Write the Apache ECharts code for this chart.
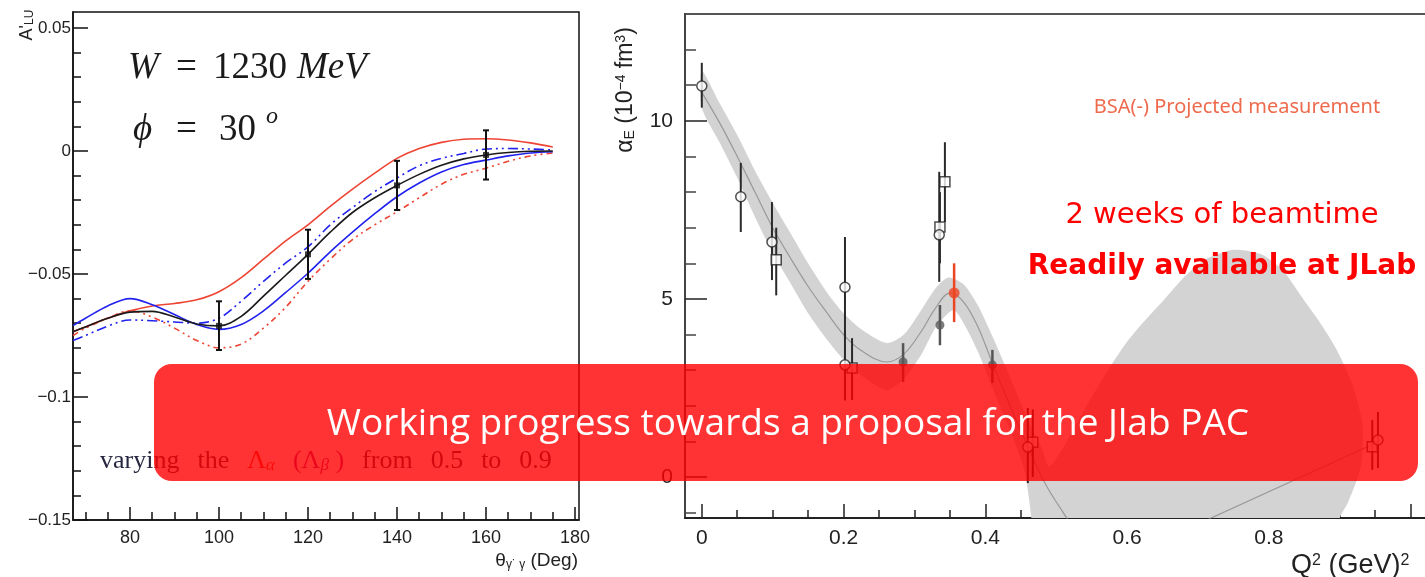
<!DOCTYPE html>
<html>
<head>
<meta charset="utf-8">
<script src="https://cdn.jsdelivr.net/npm/echarts@6/dist/echarts.min.js"></script>
<style>
  html, body { margin: 0; padding: 0; background: #ffffff; }
  #c { width: 1425px; height: 577px; }
</style>
</head>
<body>
<div id="c"></div>
<script>
// ---------- Left panel: beam-spin asymmetry A'_LU vs photon angle ----------
const thetaDeg      = [67.2, 70, 75, 80, 85, 90, 95, 100, 105, 110, 115, 120, 125, 130, 135, 140, 145, 150, 155, 160, 165, 170, 175];
const aluCentral    = [-0.0735, -0.0715, -0.0680, -0.0655, -0.0652, -0.0675, -0.0703, -0.0711, -0.0672, -0.0590, -0.0505, -0.0420, -0.0330, -0.0250, -0.0190, -0.0140, -0.0095, -0.0058, -0.0032, -0.0016, -0.0006, -0.0001, 0.0000];
const aluRedSolid   = [-0.0735, -0.0715, -0.0680, -0.0650, -0.0630, -0.0620, -0.0605, -0.0572, -0.0515, -0.0440, -0.0365, -0.0300, -0.0225, -0.0155, -0.0090, -0.0030, 0.0010, 0.0035, 0.0048, 0.0050, 0.0045, 0.0033, 0.0016];
const aluRedDotted  = [-0.0750, -0.0720, -0.0680, -0.0650, -0.0675, -0.0720, -0.0770, -0.0800, -0.0785, -0.0720, -0.0635, -0.0530, -0.0440, -0.0360, -0.0300, -0.0247, -0.0190, -0.0135, -0.0095, -0.0070, -0.0042, -0.0020, -0.0008];
const aluBlueSolid  = [-0.0710, -0.0680, -0.0630, -0.0600, -0.0625, -0.0665, -0.0705, -0.0725, -0.0705, -0.0650, -0.0575, -0.0497, -0.0410, -0.0330, -0.0255, -0.0186, -0.0130, -0.0085, -0.0055, -0.0037, -0.0020, -0.0008, -0.0003];
const aluBlueDashed = [-0.0770, -0.0750, -0.0712, -0.0687, -0.0690, -0.0695, -0.0700, -0.0680, -0.0610, -0.0530, -0.0455, -0.0390, -0.0300, -0.0230, -0.0165, -0.0110, -0.0060, -0.0030, -0.0010, 0.0008, 0.0010, 0.0008, 0.0004];

const aluPointTheta = [100, 120, 140, 160];
const aluPointValue = [-0.0711, -0.0420, -0.0140, -0.0016];
const aluPointLow   = [-0.0809, -0.0520, -0.0240, -0.0116];
const aluPointHigh  = [-0.0611, -0.0320, -0.0040, 0.0084];

const leftXMajor = [80, 100, 120, 140, 160, 180];
const leftXMinor = [70, 75, 85, 90, 95, 105, 110, 115, 125, 130, 135, 145, 150, 155, 165, 170, 175];
const leftYMajor = [-0.15, -0.1, -0.05, 0, 0.05];
const leftYMinor = [-0.14, -0.13, -0.12, -0.11, -0.09, -0.08, -0.07, -0.06, -0.04, -0.03, -0.02, -0.01, 0.01, 0.02, 0.03, 0.04];

// ---------- Right panel: electric polarizability alpha_E vs Q^2 ----------
const q2OpenCircle      = [0.000, 0.055, 0.099, 0.202, 0.202, 0.335, 0.460, 0.954];
const alphaOpenCircle   = [10.98, 7.87, 6.60, 5.33, 3.15, 6.80, 0.84, 1.04];
const alphaOpenCircleLo = [10.37, 6.88, 5.53, 3.90, 2.15, 5.48, -0.17, 0.25];
const alphaOpenCircleHi = [11.63, 8.82, 7.72, 6.74, 4.10, 8.57, 1.94, 1.83];

const q2OpenSquare      = [0.105, 0.212, 0.336, 0.343, 0.467, 0.946];
const alphaOpenSquare   = [6.10, 3.06, 7.02, 8.29, 0.98, 0.85];
const alphaOpenSquareLo = [5.10, 2.16, 6.00, 7.16, 0.00, 0.20];
const alphaOpenSquareHi = [7.00, 3.90, 8.00, 9.40, 1.90, 1.60];

const q2Filled      = [0.284, 0.336, 0.410];
const alphaFilled   = [3.23, 4.27, 3.15];
const alphaFilledLo = [2.67, 3.70, 2.64];
const alphaFilledHi = [3.76, 4.83, 3.57];

const q2Projected      = [0.356];
const alphaProjected   = [5.17];
const alphaProjectedLo = [4.35];
const alphaProjectedHi = [6.00];

// fit band: upper edge, wide high-Q^2 lobe, lower edge (traced as one outline)
const bandUpper = [[0, 11.4], [0.025, 10.5], [0.05, 9.6], [0.075, 8.6], [0.1, 7.7], [0.125, 6.85], [0.15, 6.0], [0.177, 5.17], [0.2, 4.6], [0.225, 4.15], [0.261, 3.76], [0.285, 4.0], [0.31, 4.7], [0.33, 5.3], [0.348, 5.6], [0.37, 5.4], [0.39, 4.8], [0.41, 3.95], [0.435, 2.8], [0.46, 1.6], [0.48, 0.8]];
const bandLobe  = [[0.49, 0.3], [0.515, 1.0], [0.54, 1.9], [0.57, 2.9], [0.6, 3.8], [0.63, 4.5], [0.652, 4.97], [0.68, 5.6], [0.71, 6.1], [0.75, 6.38], [0.79, 6.25], [0.82, 5.8], [0.845, 5.1], [0.87, 4.4], [0.895, 3.6], [0.918, 2.6], [0.932, 1.5], [0.93, 0.3], [0.912, -0.7], [0.9, -1.15], [0.885, -2.5], [0.5, -2.5]];
const bandLower = [[0.47, -2.5], [0.465, -1.15], [0.455, 0.2], [0.435, 1.3], [0.41, 2.5], [0.39, 3.5], [0.37, 4.3], [0.355, 4.69], [0.33, 4.2], [0.31, 3.45], [0.285, 2.75], [0.261, 2.44], [0.225, 2.85], [0.2, 3.3], [0.177, 3.85], [0.15, 4.6], [0.125, 5.45], [0.1, 6.3], [0.075, 7.3], [0.05, 8.4], [0.025, 9.4], [0, 10.37]];

const fitCentral = [[0, 10.8], [0.025, 9.95], [0.05, 9.0], [0.075, 8.0], [0.1, 7.0], [0.125, 6.15], [0.15, 5.35], [0.177, 4.6], [0.2, 4.0], [0.225, 3.55], [0.261, 3.23], [0.285, 3.45], [0.31, 4.1], [0.33, 4.75], [0.35, 5.17], [0.37, 4.9], [0.39, 4.2], [0.41, 3.2], [0.435, 2.0], [0.46, 0.85], [0.485, -0.2], [0.51, -1.0], [0.53, -1.6], '-', [0.68, -1.5], [0.95, 0.95]];

const rightXMajor  = [0, 0.2, 0.4, 0.6, 0.8, 1.0];
const rightXLabels = ['0', '0.2', '0.4', '0.6', '0.8', ''];
const rightXMinor  = [0.05, 0.1, 0.15, 0.25, 0.3, 0.35, 0.45, 0.5, 0.55, 0.65, 0.7, 0.75, 0.85, 0.9, 0.95];
const rightYMajor  = [0, 5, 10];
const rightYMinor  = [-1, 1, 2, 3, 4, 6, 7, 8, 9, 11, 12];

// ---------- helpers ----------
const sans = '"Liberation Sans", Arial, sans-serif';
const serif = '"Liberation Serif", "Times New Roman", serif';
const pairs = (xs, ys) => xs.map((x, i) => [x, ys[i]]);
const minusFmt = v => (v < 0 ? '\u2212' : '') + String(Math.abs(v));

function errorBars(xi, yi, xs, lo, hi, color, width, cap, z) {
  return {
    type: 'custom', xAxisIndex: xi, yAxisIndex: yi, silent: true, z: z,
    encode: { x: 0, y: [1, 2] },
    data: xs.map((x, i) => [x, lo[i], hi[i]]),
    renderItem: (params, api) => {
      const a = api.coord([api.value(0), api.value(1)]);
      const b = api.coord([api.value(0), api.value(2)]);
      const kids = [{ type: 'line', shape: { x1: a[0], y1: a[1], x2: b[0], y2: b[1] }, style: { stroke: color, lineWidth: width } }];
      if (cap) {
        kids.push({ type: 'line', shape: { x1: a[0] - cap, y1: a[1], x2: a[0] + cap, y2: a[1] }, style: { stroke: color, lineWidth: width } });
        kids.push({ type: 'line', shape: { x1: b[0] - cap, y1: b[1], x2: b[0] + cap, y2: b[1] }, style: { stroke: color, lineWidth: width } });
      }
      return { type: 'group', children: kids };
    }
  };
}

function curve(ys, color, dash) {
  return {
    type: 'line', xAxisIndex: 0, yAxisIndex: 0, data: pairs(thetaDeg, ys), smooth: 0.35,
    showSymbol: false, silent: true, z: 3,
    lineStyle: { color: color, width: 1.6, type: dash || 'solid' }
  };
}

// an extra axis that only carries the short minor ticks
function tickAxis(grid, values, len, color, width, extent, pos) {
  return {
    gridIndex: grid, type: 'value', min: extent[0], max: extent[1], position: pos,
    axisLine: { show: false, onZero: false },
    axisTick: { show: true, inside: true, length: len, customValues: values, lineStyle: { color: color, width: width } },
    axisLabel: { show: false },
    splitLine: { show: false }
  };
}

const leftXExt = [67.2, 180.9], leftYExt = [-0.15, 0.0565];
const rightXExt = [-0.0237, 1.05], rightYExt = [-1.15, 13.0];

const chart = echarts.init(document.getElementById('c'));
chart.setOption({
  animation: false,
  backgroundColor: '#ffffff',
  grid: [
    { left: 73, top: 12, width: 506, height: 508, outerBoundsMode: 'none', show: true, borderColor: '#111', borderWidth: 1.5, backgroundColor: 'transparent' },
    { left: 685, top: 14, width: 761, height: 504, outerBoundsMode: 'none', show: true, borderColor: '#555', borderWidth: 2, backgroundColor: 'transparent' }
  ],
  xAxis: [
    {
      gridIndex: 0, type: 'value', min: leftXExt[0], max: leftXExt[1], position: 'bottom',
      axisLine: { onZero: false, lineStyle: { color: '#111', width: 1.5 } },
      axisTick: { inside: true, length: 13, customValues: leftXMajor, lineStyle: { color: '#111', width: 1.5 } },
      axisLabel: { customValues: leftXMajor, color: '#222', fontSize: 18, fontFamily: sans, margin: 9 },
      splitLine: { show: false }
    },
    tickAxis(0, leftXMinor, 8, '#111', 1.5, leftXExt, 'bottom'),
    {
      gridIndex: 1, type: 'value', min: rightXExt[0], max: rightXExt[1], position: 'bottom',
      axisLine: { onZero: false, lineStyle: { color: '#222', width: 2 } },
      axisTick: { inside: true, length: 14, customValues: rightXMajor, lineStyle: { color: '#222', width: 1.5 } },
      axisLabel: { customValues: rightXMajor, color: '#222', fontSize: 21, fontFamily: sans, margin: 10,
        formatter: v => rightXLabels[rightXMajor.indexOf(v)] ?? '' },
      splitLine: { show: false }
    },
    tickAxis(1, rightXMinor, 8, '#222', 1.5, rightXExt, 'bottom')
  ],
  yAxis: [
    {
      gridIndex: 0, type: 'value', min: leftYExt[0], max: leftYExt[1], position: 'left',
      axisLine: { onZero: false, lineStyle: { color: '#111', width: 1.5 } },
      axisTick: { inside: true, length: 15, customValues: leftYMajor, lineStyle: { color: '#111', width: 1.5 } },
      axisLabel: { customValues: leftYMajor, color: '#222', fontSize: 17, fontFamily: sans, margin: 2, formatter: minusFmt },
      splitLine: { show: false }
    },
    tickAxis(0, leftYMinor, 8, '#111', 1.5, leftYExt, 'left'),
    {
      gridIndex: 1, type: 'value', min: rightYExt[0], max: rightYExt[1], position: 'left',
      axisLine: { onZero: false, lineStyle: { color: '#444', width: 2 } },
      axisTick: { inside: true, length: 22, customValues: rightYMajor, lineStyle: { color: '#222', width: 1.5 } },
      axisLabel: { customValues: rightYMajor, color: '#222', fontSize: 21, fontFamily: sans, margin: 12 },
      splitLine: { show: false }
    },
    tickAxis(1, rightYMinor, 11, '#444', 1.5, rightYExt, 'left')
  ],
  series: [
    // left panel curves
    curve(aluRedSolid, '#ee4433'),
    curve(aluRedDotted, '#ee4433', [6, 4, 2, 4, 2, 4]),
    curve(aluBlueSolid, '#2222ee'),
    curve(aluBlueDashed, '#2222ee', [10, 4, 2, 4, 2, 4]),
    curve(aluCentral, '#1a1a1a'),
    errorBars(0, 0, aluPointTheta, aluPointLow, aluPointHigh, '#111', 2, 3, 5),
    {
      type: 'scatter', xAxisIndex: 0, yAxisIndex: 0, data: pairs(aluPointTheta, aluPointValue),
      symbol: 'rect', symbolSize: 6, itemStyle: { color: '#111' }, silent: true, z: 6
    },
    // right panel: fit band
    {
      type: 'custom', xAxisIndex: 2, yAxisIndex: 2, silent: true, z: 1,
      data: [[0.5, 5]],
      renderItem: (params, api) => {
        const cs = params.coordSys;
        const outline = bandUpper.concat(bandLobe, bandLower).map(p => api.coord(p));
        return {
          type: 'group',
          clipPath: { type: 'rect', shape: { x: cs.x, y: cs.y, width: cs.width, height: cs.height } },
          children: [{ type: 'polygon', shape: { points: outline, smooth: 0.25 }, style: { fill: '#d3d3d3' } }]
        };
      }
    },
    {
      type: 'line', xAxisIndex: 2, yAxisIndex: 2, data: fitCentral, smooth: 0.35, connectNulls: false,
      showSymbol: false, silent: true, z: 2, lineStyle: { color: '#999999', width: 1.2 }
    },
    errorBars(2, 2, q2OpenCircle, alphaOpenCircleLo, alphaOpenCircleHi, '#2a2a2a', 2, 0, 4),
    errorBars(2, 2, q2OpenSquare, alphaOpenSquareLo, alphaOpenSquareHi, '#2a2a2a', 2, 0, 4),
    errorBars(2, 2, q2Filled, alphaFilledLo, alphaFilledHi, '#555555', 2.5, 0, 4),
    errorBars(2, 2, q2Projected, alphaProjectedLo, alphaProjectedHi, '#ee4422', 2.5, 0, 4),
    {
      type: 'scatter', xAxisIndex: 2, yAxisIndex: 2, data: pairs(q2OpenSquare, alphaOpenSquare),
      symbol: 'rect', symbolSize: 10, silent: true, z: 6,
      itemStyle: { color: '#ffffff', borderColor: '#222', borderWidth: 1.5 }
    },
    {
      type: 'scatter', xAxisIndex: 2, yAxisIndex: 2, data: pairs(q2OpenCircle, alphaOpenCircle),
      symbol: 'circle', symbolSize: 10, silent: true, z: 7,
      itemStyle: { color: '#ffffff', borderColor: '#222', borderWidth: 1.5 }
    },
    {
      type: 'scatter', xAxisIndex: 2, yAxisIndex: 2, data: pairs(q2Filled, alphaFilled),
      symbol: 'circle', symbolSize: 9, silent: true, z: 6, itemStyle: { color: '#5a5a5a' }
    },
    {
      type: 'scatter', xAxisIndex: 2, yAxisIndex: 2, data: pairs(q2Projected, alphaProjected),
      symbol: 'circle', symbolSize: 11, silent: true, z: 6, itemStyle: { color: '#ee4422' }
    }
  ],
  graphic: [
    // left panel axis titles
    {
      type: 'text', x: 27, y: 25, rotation: Math.PI / 2, z: 50,
      style: {
        text: "A'{s|LU}", fontFamily: sans, fontSize: 18, fill: '#222', align: 'center', verticalAlign: 'middle',
        rich: { s: { fontSize: 12, verticalAlign: 'bottom', fontFamily: sans, fill: '#222' } }
      }
    },
    {
      type: 'text', x: 578, y: 561, z: 50,
      style: {
        text: '\u03b8{s|\u03b3\u02d9 \u03b3} (Deg)', fontFamily: sans, fontSize: 19, fill: '#222', align: 'right', verticalAlign: 'middle',
        rich: { s: { fontSize: 12, verticalAlign: 'bottom', fontFamily: sans, fill: '#222' } }
      }
    },
    // kinematics
    { type: 'text', x: 128, y: 68, z: 50, style: { text: 'W', fontFamily: serif, fontStyle: 'italic', fontSize: 37, fill: '#1a1a1a', verticalAlign: 'middle' } },
    { type: 'text', x: 176, y: 68, z: 50, style: { text: '=', fontFamily: serif, fontSize: 37, fill: '#1a1a1a', verticalAlign: 'middle' } },
    { type: 'text', x: 213, y: 68, z: 50, style: { text: '1230', fontFamily: serif, fontSize: 37, fill: '#1a1a1a', verticalAlign: 'middle' } },
    { type: 'text', x: 297, y: 68, z: 50, style: { text: 'MeV', fontFamily: serif, fontStyle: 'italic', fontSize: 37, fill: '#1a1a1a', verticalAlign: 'middle' } },
    { type: 'text', x: 133, y: 130, z: 50, style: { text: '\u03d5', fontFamily: serif, fontStyle: 'italic', fontSize: 37, fill: '#1a1a1a', verticalAlign: 'middle' } },
    { type: 'text', x: 176, y: 130, z: 50, style: { text: '=', fontFamily: serif, fontSize: 37, fill: '#1a1a1a', verticalAlign: 'middle' } },
    { type: 'text', x: 219, y: 130, z: 50, style: { text: '30', fontFamily: serif, fontSize: 37, fill: '#1a1a1a', verticalAlign: 'middle' } },
    { type: 'text', x: 266, y: 117, z: 50, style: { text: 'o', fontFamily: serif, fontStyle: 'italic', fontSize: 24, fill: '#1a1a1a', verticalAlign: 'middle' } },
    {
      type: 'text', x: 100, y: 461, z: 50,
      style: {
        text: 'varying{g| }the{g| }{r|\u039b}{rs|\u03b1}{g| }{p|(\u039b}{ps|\u03b2}{p| )}{g| }from{g| }0.5{g| }to{g| }0.9',
        fontFamily: serif, fontSize: 26, fill: '#262640', verticalAlign: 'middle',
        rich: {
          g: { width: 18, fontFamily: serif, fontSize: 26 },
          r: { fill: '#e8302a', fontFamily: serif, fontSize: 26 },
          rs: { fill: '#e8302a', fontFamily: serif, fontStyle: 'italic', fontSize: 17, verticalAlign: 'bottom' },
          p: { fill: '#a0208a', fontFamily: serif, fontSize: 26 },
          ps: { fill: '#a0208a', fontFamily: serif, fontStyle: 'italic', fontSize: 17, verticalAlign: 'bottom' }
        }
      }
    },
    // right panel axis titles
    {
      type: 'text', x: 626, y: 90, rotation: Math.PI / 2, z: 50,
      style: {
        text: '\u03b1{s|E} (10{u|\u22124} fm{u|3})', fontFamily: sans, fontSize: 23, fill: '#222', align: 'center', verticalAlign: 'middle',
        rich: {
          s: { fontSize: 14, verticalAlign: 'bottom', fontFamily: sans, fill: '#222' },
          u: { fontSize: 14, verticalAlign: 'top', fontFamily: sans, fill: '#222' }
        }
      }
    },
    {
      type: 'text', x: 1291, y: 566, z: 50,
      style: {
        text: 'Q{u|2} (GeV){u|2}', fontFamily: sans, fontSize: 27, fill: '#222', align: 'left', verticalAlign: 'middle',
        rich: { u: { fontSize: 16, verticalAlign: 'top', fontFamily: sans, fill: '#222' } }
      }
    },
    // annotations
    { type: 'text', x: 1237, y: 107, z: 50, style: { text: 'BSA(-) Projected measurement', fontFamily: '"Noto Sans", "Open Sans", sans-serif', fontSize: 20, fill: '#ee6a4c', align: 'center', verticalAlign: 'middle' } },
    { type: 'text', x: 1222, y: 215, z: 50, style: { text: '2 weeks of beamtime', fontFamily: '"DejaVu Sans", sans-serif', fontSize: 29, fill: '#ff0000', align: 'center', verticalAlign: 'middle' } },
    { type: 'text', x: 1222, y: 267, z: 50, style: { text: 'Readily available at JLab', fontFamily: '"DejaVu Sans", sans-serif', fontWeight: 'bold', fontSize: 28, fill: '#ff0000', align: 'center', verticalAlign: 'middle' } },
    // banner
    { type: 'rect', z: 100, shape: { x: 154, y: 364, width: 1264, height: 117, r: 18 }, style: { fill: 'rgba(255, 0, 0, 0.8)' } },
    { type: 'text', x: 788, y: 424, z: 101, style: { text: 'Working progress towards a proposal for the Jlab PAC', fontFamily: '"Open Sans", "Noto Sans", sans-serif', fontSize: 37, fill: '#ffffff', align: 'center', verticalAlign: 'middle' } }
  ]
});
</script>
</body>
</html>
